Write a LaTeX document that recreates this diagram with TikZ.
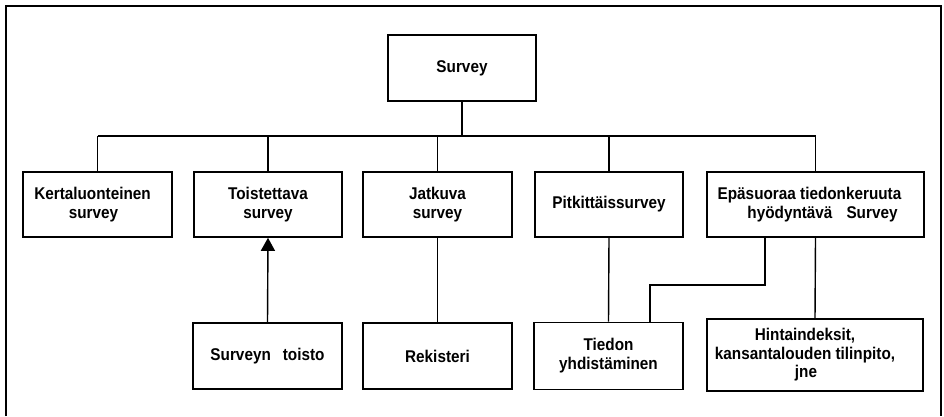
\documentclass[tikz,border=0pt]{standalone}
\usepackage{fontspec}
\setmainfont{Liberation Sans}[FakeStretch=0.9]
\usetikzlibrary{arrows.meta}

\begin{document}
\begin{tikzpicture}[x=1pt,y=-1pt,
  box/.style={draw, line width=1.6pt, inner sep=0pt, align=center,
    font=\fontsize{17}{19}\selectfont\bfseries},
  rowtwo/.style={box, minimum height=65pt},
  rowthree/.style={box, minimum height=66pt},
  link/.style={line width=1.4pt},
  frame/.style={line width=1.3pt}]
\useasboundingbox (0,0) rectangle (944,416);

% open frame round the chart
\draw[frame] (6,416) -- (6,6) -- (941,6) -- (941,416);

% top level
\node[box, minimum width=148pt, minimum height=66pt] (survey) at (462,68) {Survey};

% second level
\node[rowtwo, minimum width=149pt] (k) at (97.5,204.5) {Kertaluonteinen\hspace*{10pt}\hbox{}\\survey\hspace*{8pt}\hbox{}};
\node[rowtwo, minimum width=148pt] (t) at (268,204.5) {Toistettava\\survey};
\node[rowtwo, minimum width=149pt] (j) at (437.5,204.5) {Jatkuva\\survey};
\node[rowtwo, minimum width=148pt] (p) at (609,204.5) {Pitkittäissurvey};
\node[rowtwo, minimum width=217pt] (e) at (815.5,204.5)
  {Epäsuoraa tiedonkeruuta\hspace*{12pt}\hbox{}\\\hspace*{14pt}hyödyntävä\hspace{14pt}Survey};

% third level
\node[rowthree, minimum width=149pt] (s) at (267.5,356) {Surveyn\hspace{12pt}toisto};
\node[rowthree, minimum width=149pt] (r) at (437.5,356) {Rekisteri};
\node[rowthree, minimum width=149pt, minimum height=67pt] (tiedon) at (608.5,356)
  {Tiedon\\yhdistäminen};
\node[box, minimum width=216pt, minimum height=72pt,
  font=\fontsize{17}{18.5}\selectfont\bfseries] (h) at (815,355)
  {Hintaindeksit,\hspace*{20pt}\hbox{}\\kansantalouden tilinpito,\hspace*{20pt}\hbox{}\\jne\hspace*{18pt}\hbox{}};

% tree connectors
\coordinate (bar) at (0,136);
\draw[link] (survey.south) -- (survey.south |- bar);
\draw[link] (k.north |- bar) -- (e.north |- bar);
\foreach \n in {k,t,j,p,e}
  \draw[link] (\n.north |- bar) -- (\n.north);

\draw[link, -{Triangle[width=14pt,length=13pt]}] (s.north) -- (t.south);
\draw[link] (j.south) -- (r.north);
\draw[link] (p.south) -- (tiedon.north);
\draw[link] (e.south) -- (h.north);

% elbow from the indirect survey to data linkage
\coordinate (ea) at (765,285);
\coordinate (eb) at (650,285);
\draw[link] (ea |- e.south) -- (ea) -- (eb) -- (eb |- tiedon.north);
\end{tikzpicture}
\end{document}
